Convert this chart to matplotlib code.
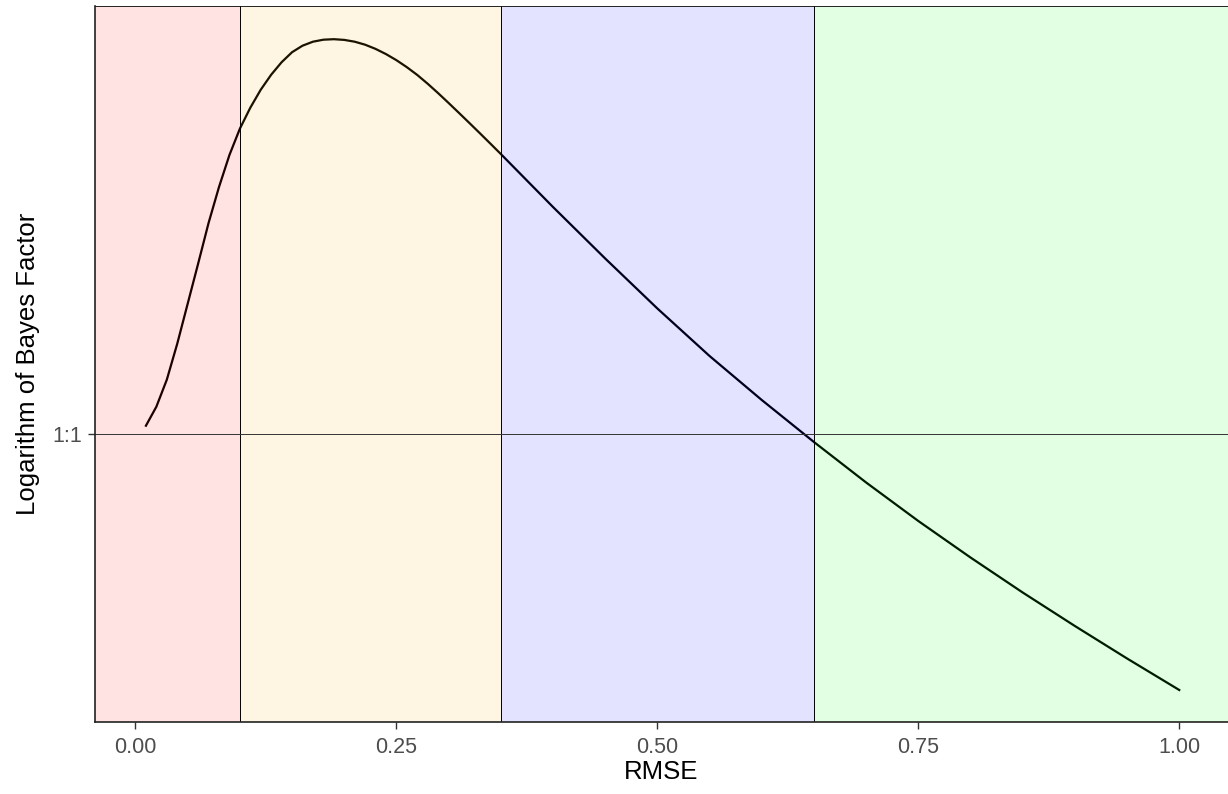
import numpy as np
import matplotlib.pyplot as plt

plt.rcParams['font.family'] = ['Liberation Sans', 'DejaVu Sans']

# log Bayes factor (1:1 at zero) against RMSE
rmse = [0.01, 0.02, 0.03, 0.04, 0.05, 0.06, 0.07, 0.08, 0.09, 0.10,
        0.11, 0.12, 0.13, 0.14, 0.15, 0.16, 0.17, 0.18, 0.19, 0.20,
        0.21, 0.22, 0.23, 0.24, 0.25, 0.26, 0.27, 0.28, 0.29, 0.30,
        0.31, 0.32, 0.33, 0.34, 0.35, 0.40, 0.45, 0.50, 0.55, 0.60,
        0.65, 0.70, 0.75, 0.80, 0.85, 0.90, 0.95, 1.00]
log_bf = [0.083, 0.273, 0.543, 0.903, 1.303, 1.703, 2.11, 2.47, 2.79, 3.053,
          3.263, 3.443, 3.593, 3.718, 3.818, 3.883, 3.923, 3.943, 3.948, 3.941,
          3.923, 3.893, 3.851, 3.799, 3.738, 3.668, 3.59, 3.502, 3.408, 3.31,
          3.21, 3.109, 3.007, 2.904, 2.80, 2.27, 1.755, 1.255, 0.78, 0.34,
          -0.08, -0.485, -0.87, -1.235, -1.585, -1.92, -2.245, -2.56]

# shaded RMSE bands
band_edges = [-0.5, 0.10, 0.35, 0.65, 1.5]
band_colors = ['red', 'orange', 'blue', 'lime']

fig = plt.figure(figsize=(12.28, 7.94), dpi=100)
ax = fig.add_axes([95 / 1228, 72 / 794, 1133 / 1228, 716.5 / 794])

ax.plot(rmse, log_bf, color='black', lw=1.6, zorder=1)

for lo, hi, c in zip(band_edges[:-1], band_edges[1:], band_colors):
    fc = plt.matplotlib.colors.to_rgba(c, 0.11)
    ax.axvspan(lo, hi, ymin=0, ymax=1, facecolor=fc, edgecolor='black',
               lw=0.6, zorder=2)

ax.axhline(0, color='#333333', lw=0.7, zorder=3)

ax.set_xlim(-0.0388, 1.0467)
ax.set_ylim(-2.88, 4.285)

ax.set_xticks([0, 0.25, 0.5, 0.75, 1.0])
ax.set_xticklabels(['0.00', '0.25', '0.50', '0.75', '1.00'])
ax.set_yticks([0])
ax.set_yticklabels(['1:1'])

ax.tick_params(axis='both', colors='#333333', labelcolor='#4D4D4D',
               labelsize=15.5, length=5, width=1)
ax.tick_params(axis='x', pad=6)
ax.tick_params(axis='y', pad=4)

for s in ['top', 'right']:
    ax.spines[s].set_visible(False)
for s in ['left', 'bottom']:
    ax.spines[s].set_color('#222222')
    ax.spines[s].set_linewidth(1.2)
    ax.spines[s].set_zorder(4)

ax.set_xlabel('RMSE', fontsize=18.5, color='black', labelpad=1)
ax.set_ylabel('Logarithm of Bayes Factor', fontsize=18.5, color='black',
              labelpad=9)

fig.savefig('out.png', dpi=100)
